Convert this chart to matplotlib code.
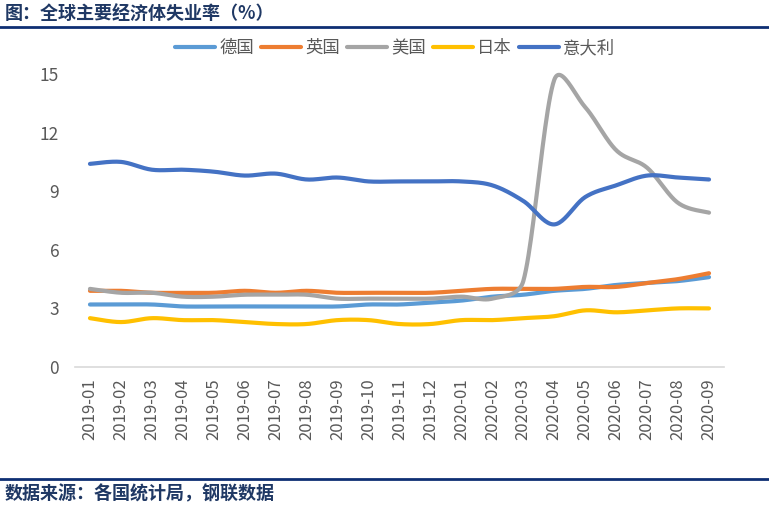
import numpy as np
import matplotlib
matplotlib.use("Agg")
import matplotlib.pyplot as plt

plt.rcParams['font.family'] = ['Noto Sans CJK SC', 'DejaVu Sans']

# 数据
months = ["2019-01", "2019-02", "2019-03", "2019-04", "2019-05", "2019-06", "2019-07",
          "2019-08", "2019-09", "2019-10", "2019-11", "2019-12", "2020-01", "2020-02",
          "2020-03", "2020-04", "2020-05", "2020-06", "2020-07", "2020-08", "2020-09"]
germany = [3.2, 3.2, 3.2, 3.1, 3.1, 3.1, 3.1, 3.1, 3.1, 3.2, 3.2, 3.3, 3.4, 3.6,
           3.7, 3.9, 4.0, 4.2, 4.3, 4.4, 4.6]
uk = [3.9, 3.9, 3.8, 3.8, 3.8, 3.9, 3.8, 3.9, 3.8, 3.8, 3.8, 3.8, 3.9, 4.0,
      4.0, 4.0, 4.1, 4.1, 4.3, 4.5, 4.8]
usa = [4.0, 3.8, 3.8, 3.6, 3.6, 3.7, 3.7, 3.7, 3.5, 3.5, 3.5, 3.5, 3.6, 3.5,
       4.4, 14.7, 13.3, 11.1, 10.2, 8.4, 7.9]
japan = [2.5, 2.3, 2.5, 2.4, 2.4, 2.3, 2.2, 2.2, 2.4, 2.4, 2.2, 2.2, 2.4, 2.4,
         2.5, 2.6, 2.9, 2.8, 2.9, 3.0, 3.0]
italy = [10.4, 10.5, 10.1, 10.1, 10.0, 9.8, 9.9, 9.6, 9.7, 9.5, 9.5, 9.5, 9.5, 9.3,
         8.5, 7.3, 8.7, 9.3, 9.8, 9.7, 9.6]

series = [("德国", germany, "#5B9BD5"),
          ("英国", uk, "#ED7D31"),
          ("美国", usa, "#A5A5A5"),
          ("日本", japan, "#FFC000"),
          ("意大利", italy, "#4472C4")]

# 像素比例（用于平滑时限制控制点长度）
SX, SY = 31.0, 19.5


def smooth(y, n=24):
    # 类似 Excel 平滑线 (Bezier, 1/6 张力, 控制点长度受限)
    y = np.asarray(y, float)
    x = np.arange(len(y), dtype=float)
    P = np.column_stack([x * SX, y * SY])
    m = len(P)
    tang = []
    for i in range(m):
        tang.append((P[min(i + 1, m - 1)] - P[max(i - 1, 0)]) / 6)
    xs, ys = [], []
    for i in range(m - 1):
        seg = np.linalg.norm(P[i + 1] - P[i])
        t1, t2 = tang[i], tang[i + 1]
        lim = 0.45 * seg
        if np.linalg.norm(t1) > lim:
            t1 = t1 * lim / np.linalg.norm(t1)
        if np.linalg.norm(t2) > lim:
            t2 = t2 * lim / np.linalg.norm(t2)
        p0, p3 = P[i], P[i + 1]
        c1, c2 = p0 + t1, p3 - t2
        t = np.linspace(0, 1, n, endpoint=(i == m - 2))[:, None]
        pts = ((1 - t) ** 3) * p0 + 3 * ((1 - t) ** 2) * t * c1 + 3 * (1 - t) * t ** 2 * c2 + t ** 3 * p3
        xs.append(pts[:, 0] / SX)
        ys.append(pts[:, 1] / SY)
    return np.concatenate(xs), np.concatenate(ys)


fig = plt.figure(figsize=(7.69, 5.08), dpi=100)
ax = fig.add_axes([74.5 / 769, 1 - 367 / 508, (724.5 - 74.5) / 769, (367 - 74) / 508])

for name, vals, col in series:
    sx, sy = smooth(vals)
    ax.plot(sx, sy, color=col, lw=3, solid_capstyle="round", label=name, clip_on=False)

ax.set_xlim(-0.5, len(months) - 0.5)
ax.set_ylim(0, 15)
ax.set_yticks([0, 3, 6, 9, 12, 15])
ax.set_xticks(range(len(months)))
ax.set_xticklabels(months, rotation=90)
ax.tick_params(axis="y", length=0, labelsize=12.5, labelcolor="#595959", pad=11)
ax.tick_params(axis="x", length=0, labelsize=12, labelcolor="#595959", pad=8)
for s in ["top", "right", "left"]:
    ax.spines[s].set_visible(False)
ax.spines["bottom"].set_color("#D9D9D9")
ax.spines["bottom"].set_linewidth(1.2)

leg = fig.legend(loc="center", bbox_to_anchor=(0.514, 1 - 48 / 508), ncol=5, frameon=False,
                 fontsize=12.5, handlelength=2.3, handletextpad=0.25, columnspacing=0.4)
for t in leg.get_texts():
    t.set_color("#595959")

# 标题与来源
fig.text(5 / 769, 1 - 14 / 508, "图：全球主要经济体失业率（%）", fontsize=13, fontweight="bold",
         color="#1F3864", va="center", ha="left")
fig.add_artist(plt.Line2D([0, 1], [1 - 27 / 508, 1 - 27 / 508], color="#0E2F73", lw=2))
fig.add_artist(plt.Line2D([0, 1], [1 - 479 / 508, 1 - 479 / 508], color="#0E2F73", lw=2))
fig.text(5 / 769, 1 - 494 / 508, "数据来源：各国统计局，钢联数据", fontsize=13, fontweight="bold",
         color="#1F3864", va="center", ha="left")

plt.savefig("out.png", dpi=100)
plt.close()
